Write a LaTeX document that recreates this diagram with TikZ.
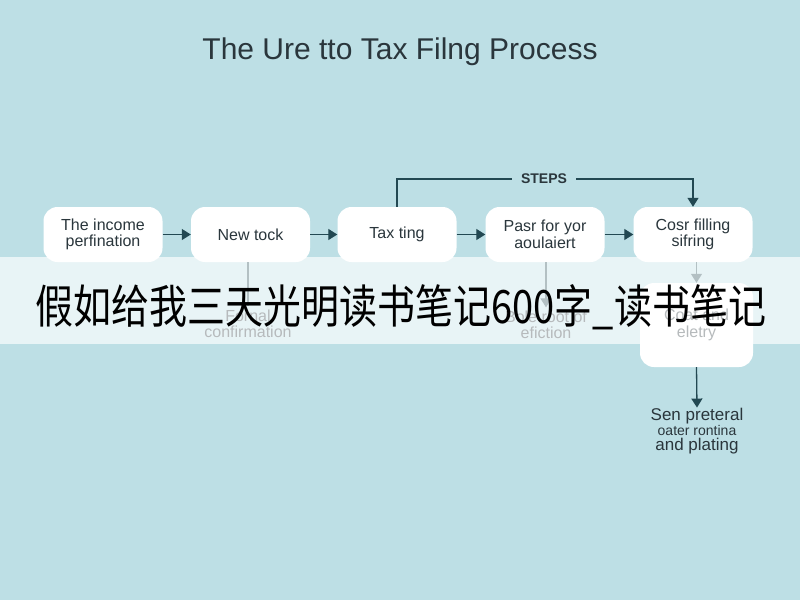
\documentclass[tikz,border=0pt]{standalone}
\usepackage{fontspec}
\setmainfont{Liberation Sans}
\newfontfamily\cjk{Noto Sans CJK SC}
\usetikzlibrary{arrows.meta,positioning}
\definecolor{bgblue}{RGB}{189,223,229}
\definecolor{linecol}{RGB}{34,72,82}
\definecolor{txtcol}{RGB}{42,54,60}

\begin{document}
\begin{tikzpicture}[x=1pt, y=-1pt,
    stepbox/.style={fill=white, rounded corners=14pt, minimum width=119pt, minimum height=55pt,
        align=center, text=txtcol, font=\fontsize{16}{16.5}\selectfont},
    flow/.style={-{Triangle[length=9pt,width=11pt]}, line width=1.3pt, linecol},
    plain/.style={line width=1.3pt, linecol},
    note/.style={align=center, text=txtcol, font=\fontsize{16}{16.5}\selectfont}]
    % background
    \fill[bgblue] (0,0) rectangle (800,600);
    \useasboundingbox (0,0) rectangle (800,600);

    % title
    \node[text=txtcol, font=\fontsize{30}{31}\selectfont] (title) at (400,52) {The Ure tto Tax Filng Process};

    % steps row
    \node[stepbox] (income) at (103,234.5) {The income\\perfination};
    \node[stepbox] (newtock) at (250.5,234.5) {New tock};
    \node[stepbox] (taxting) at (397,234.5) {Tax ting};
    \node[stepbox] (pasr) at (545,234.5) {Pasr for yor\\aoulaiert};
    \node[stepbox] (cosr) at (693,234.5) {Cosr filling\\sifring};

    \draw[flow] (income) -- (newtock);
    \draw[flow] (newtock) -- (taxting);
    \draw[flow] (taxting) -- (pasr);
    \draw[flow] (pasr) -- (cosr);

    % STEPS bracket
    \node[text=txtcol, font=\fontsize{14}{14}\selectfont\bfseries, inner xsep=9pt] (steps) at (544,179) {STEPS};
    \draw[plain] (taxting.north) |- (steps.west);
    \draw[flow] (steps.east) -| (cosr.north);

    % lower branch
    \node[note] (fornal) at (248,324) {Fornal\\confirmation};
    \node[note] (bole) at (546,325) {Bole root of\\efiction};
    \node[stepbox, minimum width=113pt, minimum height=84pt] (coat) at (696.5,325) {Coat and\\eletry};
    \node[note, font=\fontsize{17}{15}\selectfont] (sen) at (697,431)
        {Sen preteral\\{\fontsize{14}{14}\selectfont oater rontina}\\and plating};

    \draw[plain] (newtock.south -| fornal.north) -- (fornal.north);
    \draw[flow] (pasr.south -| bole.north) -- (bole.north);
    \draw[flow] (coat.north |- cosr.south) -- (coat.north);
    \draw[flow] (coat.south) -- ([yshift=-3pt]sen.north);

    % watermark
    \fill[white, opacity=0.66] (0,257) rectangle (800,344);
    \node[font=\cjk\fontsize{46}{46}\selectfont, xscale=0.826, transform shape] (mark) at (401,307)
        {假如给我三天光明读书笔记600字\_读书笔记};
\end{tikzpicture}
\end{document}
